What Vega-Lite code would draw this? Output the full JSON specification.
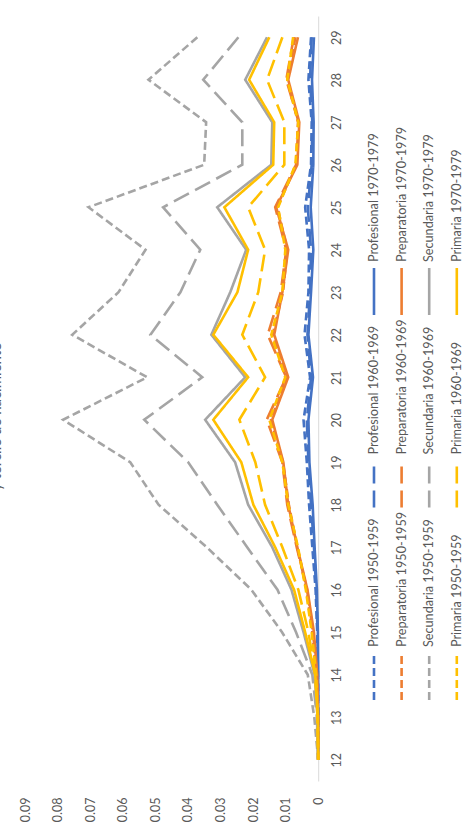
{
  "$schema": "https://vega.github.io/schema/vega-lite/v6.json",
  "background": "white",
  "padding": {"left": -11, "top": 16, "right": 1, "bottom": 5},
  "config": {"view": {"stroke": null}, "font": "Lato"},
  "datasets": {
    "tasas": [
      {"edad": 12, "Profesional 1950-1959": 0, "Profesional 1960-1969": 0, "Profesional 1970-1979": 0, "Preparatoria 1950-1959": 0, "Preparatoria 1960-1969": 0, "Preparatoria 1970-1979": 0, "Secundaria 1950-1959": 0, "Secundaria 1960-1969": 0, "Secundaria 1970-1979": 0, "Primaria 1950-1959": 0, "Primaria 1960-1969": 0, "Primaria 1970-1979": 0},
      {"edad": 13, "Profesional 1950-1959": 0, "Profesional 1960-1969": 0, "Profesional 1970-1979": 0, "Preparatoria 1950-1959": 0.0001, "Preparatoria 1960-1969": 0.0001, "Preparatoria 1970-1979": 0, "Secundaria 1950-1959": 0.0012, "Secundaria 1960-1969": 0.0004, "Secundaria 1970-1979": 0.0002, "Primaria 1950-1959": 0.0002, "Primaria 1960-1969": 0.0002, "Primaria 1970-1979": 0.0001},
      {"edad": 14, "Profesional 1950-1959": 0.0001, "Profesional 1960-1969": 0.0001, "Profesional 1970-1979": 0, "Preparatoria 1950-1959": 0.0005, "Preparatoria 1960-1969": 0.0004, "Preparatoria 1970-1979": 0.0003, "Secundaria 1950-1959": 0.0032, "Secundaria 1960-1969": 0.0018, "Secundaria 1970-1979": 0.0011, "Primaria 1950-1959": 0.0006, "Primaria 1960-1969": 0.0009, "Primaria 1970-1979": 0.0009},
      {"edad": 15, "Profesional 1950-1959": 0.0003, "Profesional 1960-1969": 0.0002, "Profesional 1970-1979": 0.0001, "Preparatoria 1950-1959": 0.0018, "Preparatoria 1960-1969": 0.0016, "Preparatoria 1970-1979": 0.0013, "Secundaria 1950-1959": 0.0111, "Secundaria 1960-1969": 0.0068, "Secundaria 1970-1979": 0.0045, "Primaria 1950-1959": 0.002, "Primaria 1960-1969": 0.003, "Primaria 1970-1979": 0.004},
      {"edad": 16, "Profesional 1950-1959": 0.0008, "Profesional 1960-1969": 0.0006, "Profesional 1970-1979": 0.0004, "Preparatoria 1950-1959": 0.0036, "Preparatoria 1960-1969": 0.0034, "Preparatoria 1970-1979": 0.0033, "Secundaria 1950-1959": 0.0205, "Secundaria 1960-1969": 0.0125, "Secundaria 1970-1979": 0.0082, "Primaria 1950-1959": 0.0038, "Primaria 1960-1969": 0.0061, "Primaria 1970-1979": 0.0074},
      {"edad": 17, "Profesional 1950-1959": 0.0018, "Profesional 1960-1969": 0.0013, "Profesional 1970-1979": 0.0011, "Preparatoria 1950-1959": 0.0064, "Preparatoria 1960-1969": 0.0066, "Preparatoria 1970-1979": 0.0064, "Secundaria 1950-1959": 0.0342, "Secundaria 1960-1969": 0.0218, "Secundaria 1970-1979": 0.0141, "Primaria 1950-1959": 0.0062, "Primaria 1960-1969": 0.011, "Primaria 1970-1979": 0.0132},
      {"edad": 18, "Profesional 1950-1959": 0.0028, "Profesional 1960-1969": 0.0022, "Profesional 1970-1979": 0.0017, "Preparatoria 1950-1959": 0.009, "Preparatoria 1960-1969": 0.0095, "Preparatoria 1970-1979": 0.0092, "Secundaria 1950-1959": 0.049, "Secundaria 1960-1969": 0.031, "Secundaria 1970-1979": 0.0215, "Primaria 1950-1959": 0.0092, "Primaria 1960-1969": 0.0163, "Primaria 1970-1979": 0.0199},
      {"edad": 19, "Profesional 1950-1959": 0.0035, "Profesional 1960-1969": 0.003, "Profesional 1970-1979": 0.0027, "Preparatoria 1950-1959": 0.0108, "Preparatoria 1960-1969": 0.011, "Preparatoria 1970-1979": 0.0107, "Secundaria 1950-1959": 0.0577, "Secundaria 1960-1969": 0.0399, "Secundaria 1970-1979": 0.0255, "Primaria 1950-1959": 0.011, "Primaria 1960-1969": 0.0193, "Primaria 1970-1979": 0.0236},
      {"edad": 20, "Profesional 1950-1959": 0.0045, "Profesional 1960-1969": 0.0035, "Profesional 1970-1979": 0.003, "Preparatoria 1950-1959": 0.0145, "Preparatoria 1960-1969": 0.0158, "Preparatoria 1970-1979": 0.0141, "Secundaria 1950-1959": 0.0783, "Secundaria 1960-1969": 0.0534, "Secundaria 1970-1979": 0.0347, "Primaria 1950-1959": 0.015, "Primaria 1960-1969": 0.0242, "Primaria 1970-1979": 0.0322},
      {"edad": 21, "Profesional 1950-1959": 0.0025, "Profesional 1960-1969": 0.0022, "Profesional 1970-1979": 0.0016, "Preparatoria 1950-1959": 0.0095, "Preparatoria 1960-1969": 0.0098, "Preparatoria 1970-1979": 0.0092, "Secundaria 1950-1959": 0.0525, "Secundaria 1960-1969": 0.0356, "Secundaria 1970-1979": 0.0224, "Primaria 1950-1959": 0.0101, "Primaria 1960-1969": 0.0163, "Primaria 1970-1979": 0.0215},
      {"edad": 22, "Profesional 1950-1959": 0.0042, "Profesional 1960-1969": 0.0033, "Profesional 1970-1979": 0.003, "Preparatoria 1950-1959": 0.014, "Preparatoria 1960-1969": 0.0155, "Preparatoria 1970-1979": 0.0135, "Secundaria 1950-1959": 0.0755, "Secundaria 1960-1969": 0.0515, "Secundaria 1970-1979": 0.0328, "Primaria 1950-1959": 0.0144, "Primaria 1960-1969": 0.0233, "Primaria 1970-1979": 0.0322},
      {"edad": 23, "Profesional 1950-1959": 0.003, "Profesional 1960-1969": 0.0025, "Profesional 1970-1979": 0.0022, "Preparatoria 1950-1959": 0.0108, "Preparatoria 1960-1969": 0.0115, "Preparatoria 1970-1979": 0.011, "Secundaria 1950-1959": 0.0613, "Secundaria 1960-1969": 0.0423, "Secundaria 1970-1979": 0.027, "Primaria 1950-1959": 0.011, "Primaria 1960-1969": 0.0184, "Primaria 1970-1979": 0.0248},
      {"edad": 24, "Profesional 1950-1959": 0.0028, "Profesional 1960-1969": 0.0022, "Profesional 1970-1979": 0.0015, "Preparatoria 1950-1959": 0.0095, "Preparatoria 1960-1969": 0.0098, "Preparatoria 1970-1979": 0.0092, "Secundaria 1950-1959": 0.053, "Secundaria 1960-1969": 0.0362, "Secundaria 1970-1979": 0.0221, "Primaria 1950-1959": 0.0101, "Primaria 1960-1969": 0.0163, "Primaria 1970-1979": 0.0215},
      {"edad": 25, "Profesional 1950-1959": 0.004, "Profesional 1960-1969": 0.0032, "Profesional 1970-1979": 0.0023, "Preparatoria 1950-1959": 0.0125, "Preparatoria 1960-1969": 0.0132, "Preparatoria 1970-1979": 0.0129, "Secundaria 1950-1959": 0.0705, "Secundaria 1960-1969": 0.0476, "Secundaria 1970-1979": 0.031, "Primaria 1950-1959": 0.0123, "Primaria 1960-1969": 0.0215, "Primaria 1970-1979": 0.0288},
      {"edad": 26, "Profesional 1950-1959": 0.0022, "Profesional 1960-1969": 0.002, "Profesional 1970-1979": 0.0015, "Preparatoria 1950-1959": 0.0068, "Preparatoria 1960-1969": 0.0068, "Preparatoria 1970-1979": 0.0064, "Secundaria 1950-1959": 0.035, "Secundaria 1960-1969": 0.0233, "Secundaria 1970-1979": 0.0144, "Primaria 1950-1959": 0.007, "Primaria 1960-1969": 0.0104, "Primaria 1970-1979": 0.0138},
      {"edad": 27, "Profesional 1950-1959": 0.002, "Profesional 1960-1969": 0.0018, "Profesional 1970-1979": 0.0014, "Preparatoria 1950-1959": 0.0062, "Preparatoria 1960-1969": 0.006, "Preparatoria 1970-1979": 0.0058, "Secundaria 1950-1959": 0.0344, "Secundaria 1960-1969": 0.0233, "Secundaria 1970-1979": 0.0141, "Primaria 1950-1959": 0.0061, "Primaria 1960-1969": 0.0104, "Primaria 1970-1979": 0.0135},
      {"edad": 28, "Profesional 1950-1959": 0.003, "Profesional 1960-1969": 0.0025, "Profesional 1970-1979": 0.0019, "Preparatoria 1950-1959": 0.0095, "Preparatoria 1960-1969": 0.0098, "Preparatoria 1970-1979": 0.0092, "Secundaria 1950-1959": 0.0521, "Secundaria 1960-1969": 0.0353, "Secundaria 1970-1979": 0.0224, "Primaria 1950-1959": 0.0095, "Primaria 1960-1969": 0.0157, "Primaria 1970-1979": 0.0212},
      {"edad": 29, "Profesional 1950-1959": 0.0022, "Profesional 1960-1969": 0.002, "Profesional 1970-1979": 0.0013, "Preparatoria 1950-1959": 0.007, "Preparatoria 1960-1969": 0.0075, "Preparatoria 1970-1979": 0.0062, "Secundaria 1950-1959": 0.0371, "Secundaria 1960-1969": 0.0245, "Secundaria 1970-1979": 0.0157, "Primaria 1950-1959": 0.0077, "Primaria 1960-1969": 0.011, "Primaria 1970-1979": 0.015}
    ],
    "leyenda": [
      {"serie": "Profesional 1950-1959", "nivel": "Profesional", "cohorte": "1950-1959"},
      {"serie": "Profesional 1960-1969", "nivel": "Profesional", "cohorte": "1960-1969"},
      {"serie": "Profesional 1970-1979", "nivel": "Profesional", "cohorte": "1970-1979"},
      {"serie": "Preparatoria 1950-1959", "nivel": "Preparatoria", "cohorte": "1950-1959"},
      {"serie": "Preparatoria 1960-1969", "nivel": "Preparatoria", "cohorte": "1960-1969"},
      {"serie": "Preparatoria 1970-1979", "nivel": "Preparatoria", "cohorte": "1970-1979"},
      {"serie": "Secundaria 1950-1959", "nivel": "Secundaria", "cohorte": "1950-1959"},
      {"serie": "Secundaria 1960-1969", "nivel": "Secundaria", "cohorte": "1960-1969"},
      {"serie": "Secundaria 1970-1979", "nivel": "Secundaria", "cohorte": "1970-1979"},
      {"serie": "Primaria 1950-1959", "nivel": "Primaria", "cohorte": "1950-1959"},
      {"serie": "Primaria 1960-1969", "nivel": "Primaria", "cohorte": "1960-1969"},
      {"serie": "Primaria 1970-1979", "nivel": "Primaria", "cohorte": "1970-1979"}
    ]
  },
  "bounds": "flush",
  "spacing": 41.2,
  "hconcat": [
    {
      "width": 293.2,
      "height": 765,
      "title": {"text": "y tercile de nacimiento", "orient": "left", "anchor": "middle", "offset": 14.6, "fontSize": 15, "fontWeight": "normal", "color": "#595959", "dx": -18},
      "data": {"name": "tasas"},
      "transform": [
        {"fold": ["Profesional 1950-1959", "Profesional 1960-1969", "Profesional 1970-1979", "Preparatoria 1950-1959", "Preparatoria 1960-1969", "Preparatoria 1970-1979", "Secundaria 1950-1959", "Secundaria 1960-1969", "Secundaria 1970-1979", "Primaria 1950-1959", "Primaria 1960-1969", "Primaria 1970-1979"], "as": ["serie", "valor"]}
      ],
      "mark": {"type": "line", "strokeWidth": 2.6},
      "encoding": {
        "y": {
          "field": "edad", "type": "ordinal", "sort": "descending",
          "scale": {"type": "point", "padding": 0.5},
          "axis": {"orient": "right", "title": null, "labelAngle": -90, "labelAlign": "center", "labelBaseline": "top", "ticks": false, "tickSize": 0, "labelPadding": 12, "domainColor": "#d9d9d9", "domainWidth": 1, "grid": false, "labelFontSize": 12.5, "labelColor": "#595959"}
        },
        "x": {
          "field": "valor", "type": "quantitative",
          "scale": {"domain": [0, 0.09], "reverse": true, "nice": false},
          "axis": {"orient": "bottom", "values": [0, 0.01, 0.02, 0.03, 0.04, 0.05, 0.06, 0.07, 0.08, 0.09], "format": "~g", "labelAngle": -90, "labelAlign": "right", "labelBaseline": "middle", "labelPadding": 16, "ticks": false, "tickSize": 0, "domain": false, "grid": false, "title": null, "labelFontSize": 12.5, "labelColor": "#595959", "labelFlush": false, "labelOverlap": false, "labelBound": false}
        },
        "color": {
          "field": "serie", "type": "nominal", "legend": null,
          "scale": {
            "domain": ["Profesional 1950-1959", "Profesional 1960-1969", "Profesional 1970-1979", "Preparatoria 1950-1959", "Preparatoria 1960-1969", "Preparatoria 1970-1979", "Secundaria 1950-1959", "Secundaria 1960-1969", "Secundaria 1970-1979", "Primaria 1950-1959", "Primaria 1960-1969", "Primaria 1970-1979"],
            "range": ["#4472C4", "#4472C4", "#4472C4", "#ED7D31", "#ED7D31", "#ED7D31", "#A5A5A5", "#A5A5A5", "#A5A5A5", "#FFC000", "#FFC000", "#FFC000"]
          }
        },
        "strokeDash": {
          "field": "serie", "type": "nominal", "legend": null,
          "scale": {
            "domain": ["Profesional 1950-1959", "Profesional 1960-1969", "Profesional 1970-1979", "Preparatoria 1950-1959", "Preparatoria 1960-1969", "Preparatoria 1970-1979", "Secundaria 1950-1959", "Secundaria 1960-1969", "Secundaria 1970-1979", "Primaria 1950-1959", "Primaria 1960-1969", "Primaria 1970-1979"],
            "range": [[8, 4], [17, 7], [1, 0], [8, 4], [17, 7], [1, 0], [8, 4], [17, 7], [1, 0], [8, 4], [17, 7], [1, 0]]
          }
        }
      }
    },
    {
      "width": 110.4,
      "height": 765,
      "data": {"name": "leyenda"},
      "encoding": {
        "x": {"field": "nivel", "type": "nominal", "scale": {"type": "point", "domain": ["Profesional", "Preparatoria", "Secundaria", "Primaria"], "padding": 0.5}, "axis": null},
        "y": {"field": "cohorte", "type": "nominal", "scale": {"type": "point", "domain": ["1970-1979", "1960-1969", "1950-1959"], "padding": 0.987, "align": 0.787}, "axis": null}
      },
      "layer": [
        {
          "mark": {"type": "rule", "strokeWidth": 2.6, "y2Offset": -47},
          "encoding": {
            "y2": {"field": "cohorte"},
            "color": {
              "field": "serie", "type": "nominal", "legend": null,
              "scale": {
                "domain": ["Profesional 1950-1959", "Profesional 1960-1969", "Profesional 1970-1979", "Preparatoria 1950-1959", "Preparatoria 1960-1969", "Preparatoria 1970-1979", "Secundaria 1950-1959", "Secundaria 1960-1969", "Secundaria 1970-1979", "Primaria 1950-1959", "Primaria 1960-1969", "Primaria 1970-1979"],
                "range": ["#4472C4", "#4472C4", "#4472C4", "#ED7D31", "#ED7D31", "#ED7D31", "#A5A5A5", "#A5A5A5", "#A5A5A5", "#FFC000", "#FFC000", "#FFC000"]
              }
            },
            "strokeDash": {
              "field": "serie", "type": "nominal", "legend": null,
              "scale": {
                "domain": ["Profesional 1950-1959", "Profesional 1960-1969", "Profesional 1970-1979", "Preparatoria 1950-1959", "Preparatoria 1960-1969", "Preparatoria 1970-1979", "Secundaria 1950-1959", "Secundaria 1960-1969", "Secundaria 1970-1979", "Primaria 1950-1959", "Primaria 1960-1969", "Primaria 1970-1979"],
                "range": [[8, 4], [17, 7], [1, 0], [8, 4], [17, 7], [1, 0], [8, 4], [17, 7], [1, 0], [8, 4], [17, 7], [1, 0]]
              }
            }
          }
        },
        {
          "mark": {"type": "text", "angle": 270, "align": "left", "baseline": "middle", "yOffset": -53, "fontSize": 12.7, "color": "#595959"},
          "encoding": {"text": {"field": "serie"}}
        }
      ]
    }
  ]
}
